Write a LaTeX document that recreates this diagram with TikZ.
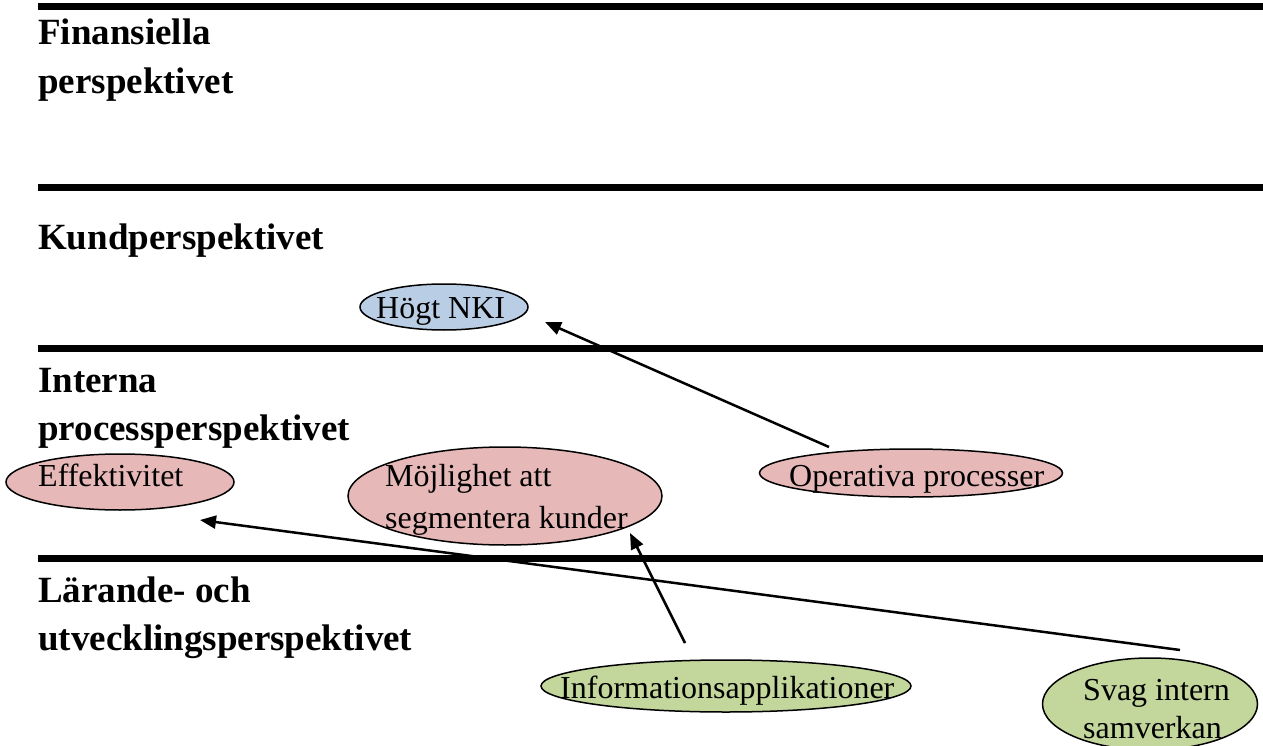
\documentclass[tikz,border=0pt]{standalone}
\usepackage{fontspec}
\setmainfont{Liberation Serif}
\usetikzlibrary{shapes.geometric,arrows.meta}
\definecolor{pinkfill}{HTML}{E6B9B8}
\definecolor{greenfill}{HTML}{C3D69B}
\definecolor{bluefill}{HTML}{B9CDE5}
\tikzset{
  sep/.style={line width=7pt},
  head/.style={font=\fontsize{37}{44}\selectfont\bfseries, anchor=base west, inner sep=0pt},
  lbl/.style={font=\fontsize{32}{38}\selectfont, anchor=base west, inner sep=0pt},
  oval/.style={ellipse, draw=black, line width=1.5pt, inner sep=0pt},
  link/.style={line width=2.5pt, -{Triangle[length=16pt,width=13pt]}}
}
\begin{document}
\begin{tikzpicture}[x=1pt,y=-1pt]
\useasboundingbox (0,0) rectangle (1263,746);
% separator lines
\draw[sep] (38,7) -- (1263,7);
\draw[sep] (38,188) -- (1263,188);
\draw[sep] (38,348) -- (1263,348);
\draw[sep] (38,558) -- (1263,558);
% headings
\node[head] (h1a) at (38,45) {Finansiella};
\node[head] (h1b) at (38,94) {perspektivet};
\node[head] (h2) at (38,249) {Kundperspektivet};
\node[head] (h3a) at (38,392) {Interna};
\node[head] (h3b) at (38,440) {processperspektivet};
\node[head] (h4a) at (38,602) {Lärande- och};
\node[head] (h4b) at (38,650) {utvecklingsperspektivet};
% ellipses
\node[oval, fill=bluefill, minimum width=168pt, minimum height=46pt] (nki) at (444,307) {};
\node[oval, fill=pinkfill, minimum width=228pt, minimum height=56pt] (eff) at (120,482) {};
\node[oval, fill=pinkfill, minimum width=314pt, minimum height=98pt] (moj) at (505,496) {};
\node[oval, fill=pinkfill, minimum width=303pt, minimum height=48pt] (op) at (911,473) {};
\node[oval, fill=greenfill, minimum width=370pt, minimum height=52pt] (info) at (726,686) {};
\node[oval, fill=greenfill, minimum width=215pt, minimum height=92pt] (svag) at (1150,704) {};
% labels
\node[lbl] (tnki) at (376,318) {Högt NKI};
\node[lbl] (teff) at (38,486) {Effektivitet};
\node[lbl] (tmoj1) at (385,486) {Möjlighet att};
\node[lbl] (tmoj2) at (385,528) {segmentera kunder};
\node[lbl] (top) at (789,486) {Operativa processer};
\node[lbl] (tinfo) at (560,698) {Informationsapplikationer};
\node[lbl] (tsv1) at (1083,700) {Svag intern};
\node[lbl] (tsv2) at (1083,738) {samverkan};
% arrow endpoints
\coordinate (a1s) at (829,447);
\coordinate (a1e) at (545,322);
\coordinate (a2s) at (1180,650);
\coordinate (a2e) at (200,520);
\coordinate (a3s) at (685,643);
\coordinate (a3e) at (630,533);
\draw[link] (a1s) -- (a1e);
\draw[link] (a2s) -- (a2e);
\draw[link] (a3s) -- (a3e);
\end{tikzpicture}
\end{document}
